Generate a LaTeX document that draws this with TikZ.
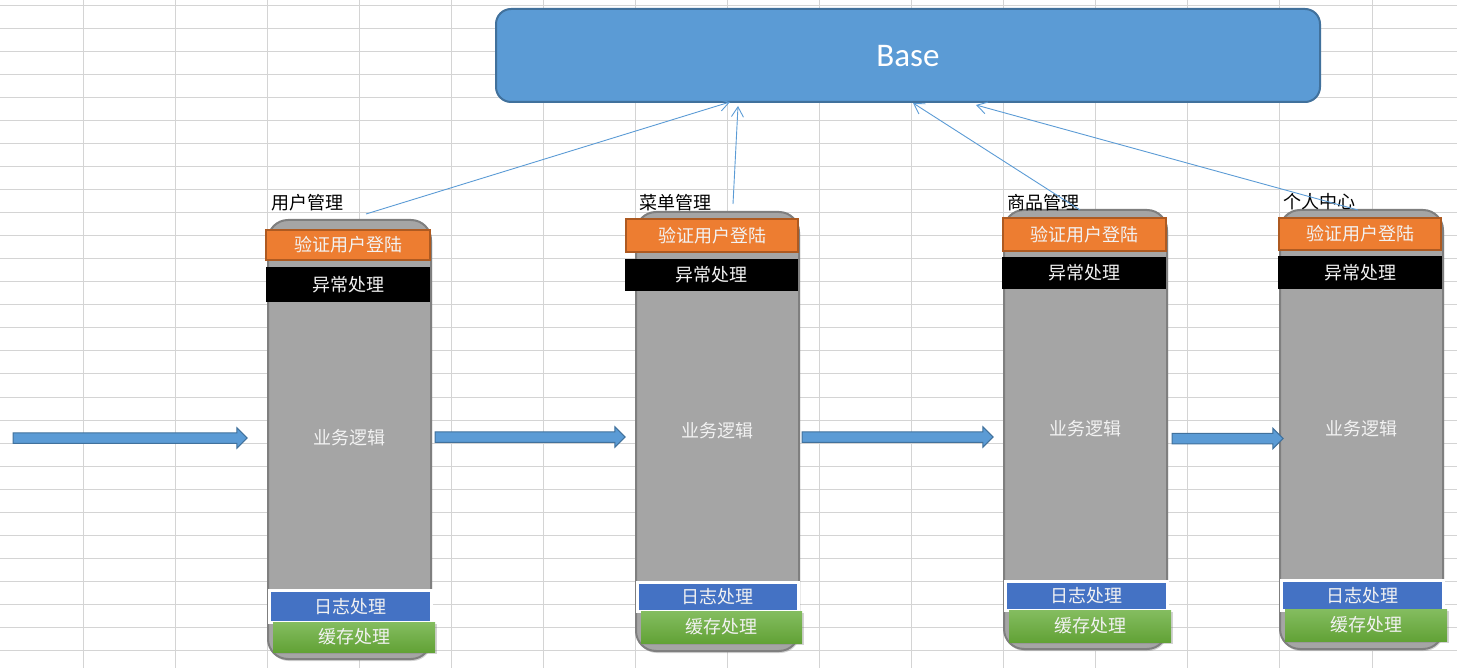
\documentclass[tikz,border=0pt]{standalone}
\usepackage{fontspec}
\setmainfont{Carlito}
\newfontfamily\cjk{Noto Sans CJK SC}
\usetikzlibrary{shapes.arrows,shadows,arrows.meta}
\definecolor{gridc}{HTML}{D4D4D4}
\definecolor{basefill}{HTML}{5B9BD5}
\definecolor{basedraw}{HTML}{41719C}
\definecolor{grayfill}{HTML}{A5A5A5}
\definecolor{graydraw}{HTML}{7F7F7F}
\definecolor{orfill}{HTML}{ED7D31}
\definecolor{ordraw}{HTML}{AE5A21}
\definecolor{bluebar}{HTML}{4472C4}
\definecolor{greentop}{HTML}{84BD60}
\definecolor{greenbot}{HTML}{62A236}
\definecolor{txtw}{HTML}{F2F2F2}
\tikzset{
  cjktext/.style={font=\cjk\fontsize{18}{20}\selectfont, text height=13.8pt, text depth=0pt},
  base/.style={fill=basefill, draw=basedraw, line width=2pt, rounded corners=15pt, inner sep=0pt},
  grayblock/.style={fill=grayfill, draw=graydraw, line width=2pt, rounded corners=20pt, inner sep=0pt,
     drop shadow={shadow xshift=1pt, shadow yshift=-2pt, opacity=0.35}},
  orangebar/.style={fill=orfill, draw=ordraw, line width=1.5pt, inner sep=0pt, cjktext, text=txtw},
  blackbar/.style={fill=black, inner sep=0pt, cjktext, text=txtw},
  bluebox/.style={fill=bluebar, draw=white, line width=3pt, inner sep=0pt, cjktext, text=txtw},
  greenbox/.style={top color=greentop, bottom color=greenbot, draw=none, inner sep=0pt, cjktext, text=txtw,
     drop shadow={shadow xshift=2pt, shadow yshift=-2pt, opacity=0.35}},
  midtext/.style={cjktext, text=txtw, inner sep=0pt},
  label/.style={cjktext, text=black, inner sep=0pt, anchor=west},
  flowarrow/.style={single arrow, single arrow head extend=5pt, text height=9.5pt, text depth=0pt,
     inner sep=0pt, fill=basefill, draw=basedraw, line width=1pt, shape border rotate=0},
  conn/.style={draw=basefill, line width=0.9pt, -{Straight Barb[length=10pt,width=12pt]}}
}
% \bx{name}{style}{left}{right}{top}{bottom}{text}
\newcommand{\bx}[7]{%
  \node[#2, minimum width={#4-#3}, minimum height={#6-#5}] (#1) at ({(#3+#4)/2},{(#5+#6)/2}) {#7};}
\begin{document}
\begin{tikzpicture}[x=1pt,y=-1pt]
\useasboundingbox (0,0) rectangle (1457,668);
% spreadsheet grid
\foreach \k in {0,...,15} \draw[gridc, line width=1pt] ({83.3+92.05*\k},0) -- ({83.3+92.05*\k},668);
\foreach \k in {0,...,28} \draw[gridc, line width=1pt] (0,{6+23*\k}) -- (1457,{6+23*\k});

% Base
\bx{base}{base}{496}{1320}{9}{102}{}
\node[text=white, font=\fontsize{33}{36}\selectfont] (basetxt) at (908,56) {Base};

% Module 1
\bx{m1}{grayblock}{268}{431}{220}{659}{}
\bx{m1o}{orangebar}{266}{430}{230}{260}{验证用户登陆}
\bx{m1b}{blackbar}{266}{430}{267}{302}{异常处理}
\bx{m1l}{bluebox}{269}{431}{590.5}{622}{日志处理}
\bx{m1g}{greenbox}{273}{435}{622}{652}{缓存处理}
\node[midtext] (m1t) at (349.5,438) {业务逻辑};
\node[label] (m1n) at (271,203) {用户管理};

% Module 2
\bx{m2}{grayblock}{636}{799}{212}{651}{}
\bx{m2o}{orangebar}{626}{798}{219}{252}{验证用户登陆}
\bx{m2b}{blackbar}{625}{798}{259}{291}{异常处理}
\bx{m2l}{bluebox}{637}{798}{582.5}{611}{日志处理}
\bx{m2g}{greenbox}{641}{802}{611}{643}{缓存处理}
\node[midtext] (m2t) at (717.5,431) {业务逻辑};
\node[label] (m2n) at (639,203) {菜单管理};

% Module 3
\bx{m3}{grayblock}{1004}{1167}{210}{649}{}
\bx{m3o}{orangebar}{1003}{1166}{218}{251}{验证用户登陆}
\bx{m3b}{blackbar}{1002}{1166}{257}{289}{异常处理}
\bx{m3l}{bluebox}{1005}{1167}{581.5}{610}{日志处理}
\bx{m3g}{greenbox}{1009}{1171}{610}{642}{缓存处理}
\node[midtext] (m3t) at (1085.5,429) {业务逻辑};
\node[label] (m3n) at (1007,203) {商品管理};

% Module 4
\bx{m4}{grayblock}{1280}{1443}{210}{649}{}
\bx{m4o}{orangebar}{1279}{1441}{218}{250}{验证用户登陆}
\bx{m4b}{blackbar}{1278}{1442}{256}{289}{异常处理}
\bx{m4l}{bluebox}{1281}{1443}{580.5}{610}{日志处理}
\bx{m4g}{greenbox}{1285}{1447}{609}{641}{缓存处理}
\node[midtext] (m4t) at (1361.5,429) {业务逻辑};
\node[label] (m4n) at (1283,202) {个人中心};

% flow arrows
\node[flowarrow, minimum height=234pt] (f1) at (127.5,438) {};
\node[flowarrow, minimum height=190pt] (f2) at (527.5,437) {};
\node[flowarrow, minimum height=191pt] (f3) at (895,437) {};
\node[flowarrow, minimum height=111pt] (f4) at (1225,438.5) {};

% connectors to Base
\coordinate (s1) at (366,214);
\coordinate (s2) at (733,204);
\coordinate (s3) at (1080,210);
\coordinate (s4) at (1358,210);
\coordinate (b1) at (730,102);
\coordinate (b2) at (738,106);
\coordinate (b3) at (913,103);
\coordinate (b4) at (976,105);
\draw[conn] (s1) -- (b1);
\draw[conn] (s2) -- (b2);
\draw[conn] (s3) -- (b3);
\draw[conn] (s4) -- (b4);
\end{tikzpicture}
\end{document}
